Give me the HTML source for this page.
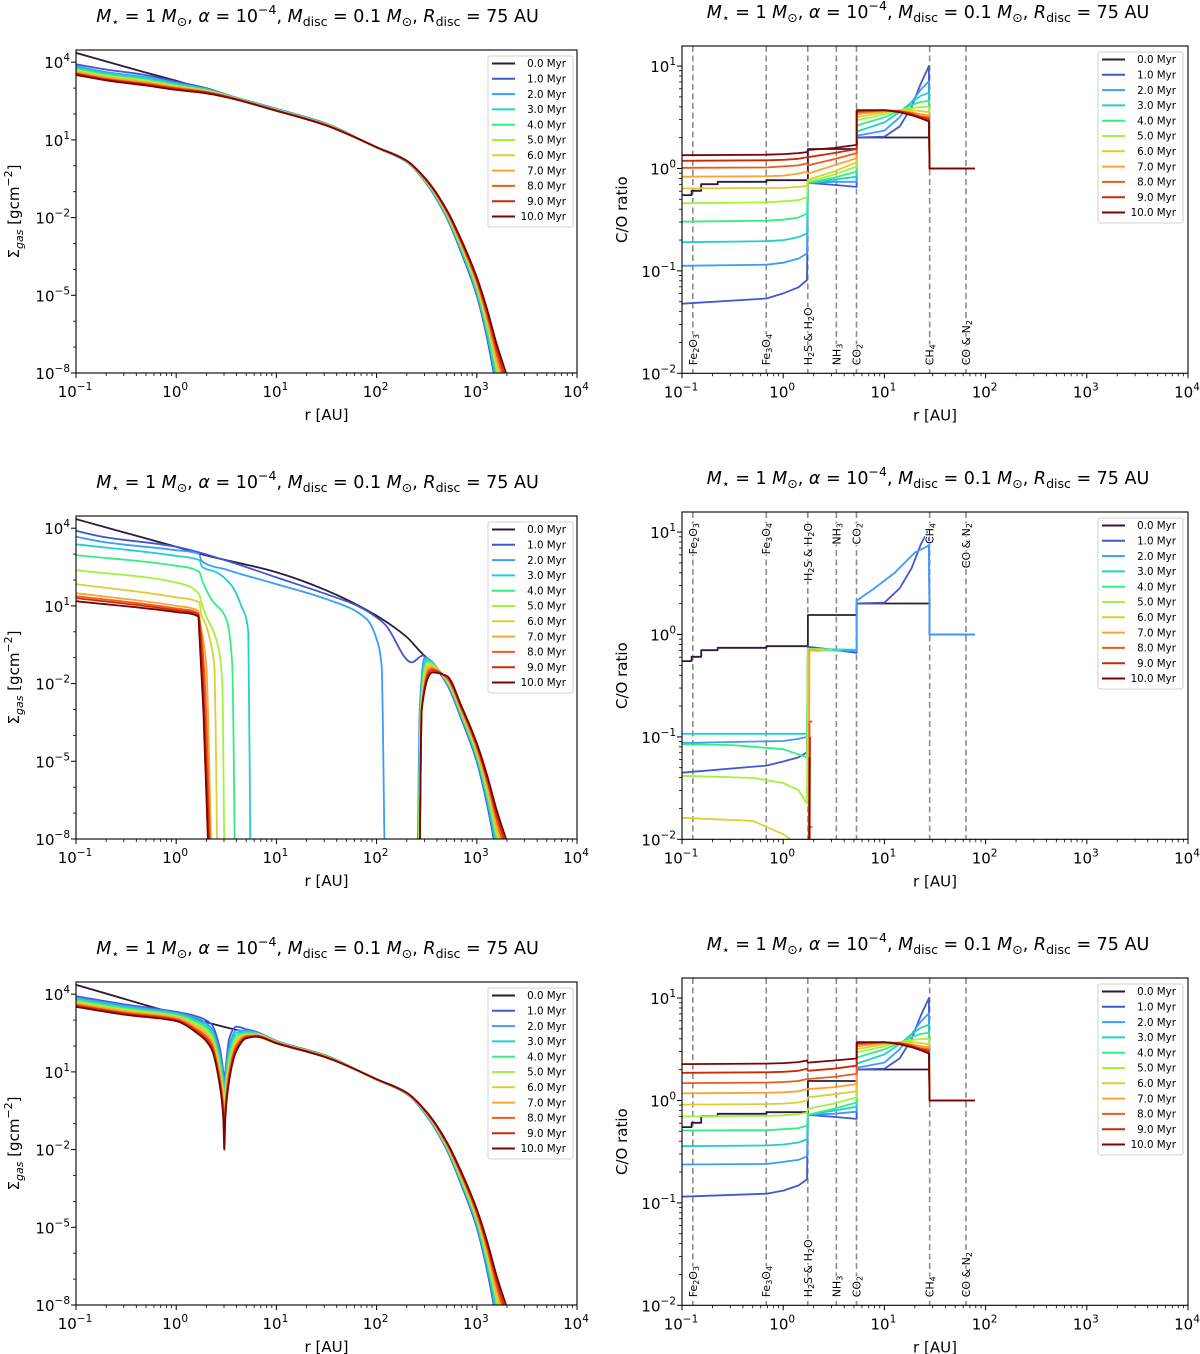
<!DOCTYPE html>
<html><head><meta charset="utf-8"><title>Gas surface density and C/O ratio evolution</title>
<style>
html,body{margin:0;padding:0;background:#fff;}
svg{display:block;font-family:"DejaVu Sans","Liberation Sans",sans-serif;}
</style></head>
<body>
<svg id="fig" width="1200" height="1354" viewBox="0 0 1200 1354" xmlns="http://www.w3.org/2000/svg"></svg>
<script>
// ---------------- DATA ----------------
const timeLabels = ['0.0 Myr','1.0 Myr','2.0 Myr','3.0 Myr','4.0 Myr','5.0 Myr','6.0 Myr','7.0 Myr','8.0 Myr','9.0 Myr','10.0 Myr'];
const seriesColors = ['#2d1a3e','#4357d0','#3d9cf8','#22cfd0','#35ee83','#a3f23c','#dccf35','#fda334','#f0591b','#cc2a07','#7a0403'];

// Panel A (top-left): log10 r [AU] grid and log10 Sigma per time
const sigA_logR = [-1,-0.7,-0.3,0,0.3,0.5,1,1.5,2,2.3,2.5,2.7,2.85,3.0,3.1,3.2,3.3];
const sigA_logSigma = [
 [4.36,4.03,3.6,3.28,2.95,2.72,2.18,1.62,0.7,0.15,-0.7,-2.0,-3.4,-5.0,-6.6,-8.6,-10.5],
 [3.92,3.72,3.5,3.25,3.0,2.75,2.2,1.62,0.7,0.15,-0.7,-2.0,-3.4,-5.0,-6.6,-8.6,-10.5],
 [3.85,3.62,3.42,3.2,2.97,2.74,2.19,1.61,0.7,0.16,-0.68,-1.97,-3.34,-4.92,-6.48,-8.41,-10.23],
 [3.8,3.57,3.38,3.16,2.95,2.73,2.18,1.6,0.7,0.16,-0.67,-1.93,-3.29,-4.84,-6.36,-8.22,-9.97],
 [3.74,3.52,3.33,3.12,2.93,2.72,2.17,1.6,0.71,0.17,-0.65,-1.9,-3.23,-4.77,-6.23,-8.03,-9.7],
 [3.7,3.48,3.29,3.09,2.91,2.71,2.16,1.59,0.71,0.17,-0.63,-1.87,-3.18,-4.69,-6.11,-7.84,-9.43],
 [3.66,3.44,3.25,3.06,2.89,2.7,2.15,1.58,0.71,0.18,-0.62,-1.83,-3.12,-4.61,-5.99,-7.66,-9.17],
 [3.62,3.4,3.21,3.03,2.87,2.69,2.14,1.57,0.71,0.18,-0.6,-1.8,-3.07,-4.53,-5.87,-7.47,-8.9],
 [3.58,3.36,3.17,3.0,2.85,2.68,2.14,1.57,0.72,0.19,-0.58,-1.77,-3.01,-4.46,-5.74,-7.28,-8.63],
 [3.55,3.33,3.14,2.97,2.83,2.67,2.13,1.56,0.72,0.19,-0.57,-1.73,-2.96,-4.38,-5.62,-7.09,-8.37],
 [3.51,3.3,3.1,2.93,2.8,2.65,2.12,1.55,0.72,0.2,-0.55,-1.7,-2.9,-4.3,-5.5,-6.9,-8.1]
];

// Panel B (middle-left): per-series log r and log Sigma (null = break)
const sigB_logR = [
 [-1,0,0.3,1,1.5,2,2.3,2.46,2.5,2.7,2.85,3.0,3.1,3.2,3.3],
 [-1,-0.75,0,0.5,1,1.5,1.81,2.08,2.35,2.46,2.5,2.7,2.85,3.0,3.1,3.2,3.3],
 [-1,-0.7,0,0.23,0.25,0.5,1,1.5,1.9,2.0,2.05,2.08,null,2.41,2.43,2.48,2.7,2.85,3.0,3.1,3.2,3.3],
 [-1,0,0.23,0.26,0.4,0.55,0.65,0.72,0.74,null,2.42,2.44,2.49,2.7,2.85,3.0,3.1,3.2,3.3],
 [-1,0,0.23,0.26,0.35,0.5,0.56,0.585,null,2.42,2.44,2.5,2.7,2.85,3.0,3.1,3.2,3.3],
 [-1,0,0.23,0.25,0.3,0.4,0.46,0.48,null,2.42,2.44,2.51,2.7,2.85,3.0,3.1,3.2,3.3],
 [-1,0,0.23,0.25,0.3,0.35,0.38,0.41,null,2.43,2.45,2.52,2.7,2.85,3.0,3.1,3.2,3.3],
 [-1,0,0.22,0.24,0.3,0.35,null,2.43,2.45,2.53,2.7,2.85,3.0,3.1,3.2,3.3],
 [-1,0,0.22,0.24,0.28,0.34,null,2.43,2.45,2.54,2.7,2.85,3.0,3.1,3.2,3.3],
 [-1,0,0.22,0.24,0.27,0.33,null,2.43,2.45,2.55,2.7,2.85,3.0,3.1,3.2,3.3],
 [-1,0,0.22,0.23,0.27,0.32,null,2.43,2.45,2.56,2.7,2.85,3.0,3.1,3.2,3.3]
];
const sigB_logSigma = [
 [4.35,3.28,2.95,2.3,1.6,0.62,-0.2,-0.86,-1.0,-2.0,-3.4,-5.0,-6.6,-8.6,-10.5],
 [3.9,3.68,3.28,2.75,2.1,1.45,1.0,0.3,-1.18,-0.92,-1.0,-2.0,-3.4,-5.0,-6.6,-8.6,-10.5],
 [3.67,3.45,3.15,3.0,2.75,2.4,1.84,1.26,0.49,-0.28,-1.3,-8.5,null,-8.5,-3,-1.0,-1.97,-3.34,-4.92,-6.48,-8.41,-10.23],
 [3.38,2.93,2.77,2.5,2.3,1.8,1.0,0,-8.5,null,-8.5,-3,-1.07,-1.93,-3.29,-4.84,-6.36,-8.22,-9.97],
 [2.96,2.55,2.32,1.97,1.26,0.49,-1.3,-8.5,null,-8.5,-3,-1.14,-1.9,-3.23,-4.77,-6.23,-8.03,-9.7],
 [2.38,1.9,1.45,1.13,0.6,-0.3,-1.95,-8.5,null,-8.5,-3,-1.21,-1.87,-3.18,-4.69,-6.11,-7.84,-9.43],
 [1.84,1.33,1.13,0.68,0.23,-0.54,-1.3,-8.5,null,-8.5,-3,-1.28,-1.83,-3.12,-4.61,-5.99,-7.66,-9.17],
 [1.49,1.0,0.81,0.36,-1.3,-8.5,null,-8.5,-3,-1.36,-1.8,-3.07,-4.53,-5.87,-7.47,-8.9],
 [1.38,0.9,0.72,0.2,-1.5,-8.5,null,-8.5,-3,-1.43,-1.77,-3.01,-4.46,-5.74,-7.28,-8.63],
 [1.3,0.83,0.66,0,-2,-8.5,null,-8.5,-3,-1.5,-1.73,-2.96,-4.38,-5.62,-7.09,-8.37],
 [1.18,0.76,0.6,0.0,-3,-8.5,null,-8.5,-3,-1.57,-1.7,-2.9,-4.3,-5.5,-6.9,-8.1]
];

// Panel C (bottom-left): gap at 3 AU
const sigC_logR0 = [-1,0.58,0.8,1.0,1.5,2.0,2.3,2.5,2.7,2.85,3.0,3.1,3.2,3.3];
const sigC_logSigma0 = [4.36,2.64,2.45,2.18,1.62,0.7,0.15,-0.7,-2.0,-3.4,-5.0,-6.6,-8.6,-10.5];
const sigC_logR = [-1,-0.5,0,0.2,0.35,0.43,0.47,0.48,0.49,0.53,0.6,0.7,0.8,1.0,1.5,2.0,2.3,2.5,2.7,2.85,3.0,3.1,3.2,3.3];
const sigC_logSigma = [
 [3.92,3.6,3.32,3.15,2.85,2.0,1.0,0.6,1.0,2.3,2.75,2.65,2.55,2.2,1.62,0.7,0.15,-0.7,-2.0,-3.4,-5.0,-6.6,-8.6,-10.5],
 [3.87,3.55,3.28,3.08,2.7,1.8,0.8,0.3,0.8,2.0,2.6,2.6,2.52,2.19,1.61,0.7,0.16,-0.68,-1.97,-3.34,-4.92,-6.48,-8.41,-10.23],
 [3.82,3.5,3.24,3.0,2.6,1.6,0.6,0.1,0.6,1.8,2.5,2.55,2.5,2.18,1.6,0.7,0.16,-0.67,-1.93,-3.29,-4.84,-6.36,-8.22,-9.97],
 [3.77,3.45,3.2,2.93,2.5,1.45,0.4,-0.1,0.4,1.6,2.4,2.5,2.48,2.17,1.6,0.71,0.17,-0.65,-1.9,-3.23,-4.77,-6.23,-8.03,-9.7],
 [3.72,3.4,3.16,2.86,2.4,1.3,0.2,-0.3,0.2,1.4,2.3,2.45,2.46,2.16,1.59,0.71,0.17,-0.63,-1.87,-3.18,-4.69,-6.11,-7.84,-9.43],
 [3.68,3.36,3.12,2.79,2.3,1.15,0,-0.6,0,1.25,2.2,2.43,2.44,2.15,1.58,0.71,0.18,-0.62,-1.83,-3.12,-4.61,-5.99,-7.66,-9.17],
 [3.63,3.32,3.08,2.72,2.2,1.0,-0.2,-0.9,-0.2,1.1,2.1,2.4,2.42,2.14,1.57,0.71,0.18,-0.6,-1.8,-3.07,-4.53,-5.87,-7.47,-8.9],
 [3.59,3.28,3.04,2.65,2.1,0.85,-0.4,-1.2,-0.4,0.95,2.0,2.37,2.4,2.13,1.57,0.72,0.19,-0.58,-1.77,-3.01,-4.46,-5.74,-7.28,-8.63],
 [3.55,3.24,3.0,2.58,2.0,0.7,-0.6,-1.6,-0.6,0.8,1.9,2.34,2.38,2.12,1.56,0.72,0.19,-0.57,-1.73,-2.96,-4.38,-5.62,-7.09,-8.37],
 [3.51,3.2,2.96,2.52,1.9,0.6,-0.8,-2.0,-0.8,0.7,1.8,2.3,2.36,2.1,1.55,0.72,0.2,-0.55,-1.7,-2.9,-4.3,-5.5,-6.9,-8.1]
];

// Ice lines (AU) and labels
const iceLineR = [0.128,0.68,1.75,3.35,5.3,28,64];
const iceLineLabels = [['Fe','2','O','3'],['Fe','3','O','4'],['H','2','S & H','2','O'],['NH','3'],['CO','2'],['CH','4'],['CO & N','2']];

// C/O step profile at t=0 (shared)
const co_logR0 = [-1,-0.905,-0.905,-0.81,-0.81,-0.647,-0.647,-0.165,-0.165,0.244,0.244,0.726,0.726,1.447,1.447,1.894];
const co_logCO0 = [-0.26,-0.26,-0.218,-0.218,-0.153,-0.153,-0.13,-0.13,-0.114,-0.114,0.19,0.19,0.303,0.303,0,0];

// C/O grid for top-right and bottom-right
const co_logR = [-1,-0.165,0,0.15,0.235,0.244,0.5,0.726,0.726,1.0,1.15,1.27,1.36,1.44,1.447,1.894];
const coA_logCO = [
 [-1.32,-1.27,-1.22,-1.16,-1.09,-0.14,-0.16,-0.18,0.303,0.31,0.41,0.6,0.83,1.0,0,0],
 [-0.95,-0.94,-0.92,-0.88,-0.83,-0.14,-0.13,-0.13,0.32,0.37,0.5,0.65,0.77,0.85,0,0],
 [-0.72,-0.71,-0.7,-0.67,-0.635,-0.14,-0.11,-0.08,0.36,0.45,0.55,0.65,0.71,0.74,0,0],
 [-0.52,-0.51,-0.5,-0.48,-0.44,-0.14,-0.09,-0.03,0.42,0.5,0.56,0.62,0.65,0.66,0,0],
 [-0.34,-0.33,-0.32,-0.31,-0.28,-0.13,-0.06,0.02,0.47,0.53,0.57,0.59,0.6,0.6,0,0],
 [-0.195,-0.19,-0.19,-0.18,-0.17,-0.11,-0.03,0.06,0.5,0.55,0.57,0.57,0.56,0.55,0,0],
 [-0.08,-0.075,-0.07,-0.05,-0.03,-0.05,0.03,0.1,0.53,0.56,0.56,0.55,0.53,0.52,0,0],
 [0.007,0.01,0.02,0.03,0.05,0.03,0.09,0.15,0.55,0.565,0.56,0.54,0.51,0.5,0,0],
 [0.075,0.08,0.085,0.095,0.11,0.11,0.15,0.19,0.56,0.57,0.56,0.53,0.5,0.48,0,0],
 [0.13,0.135,0.14,0.15,0.16,0.18,0.2,0.23,0.57,0.57,0.55,0.52,0.49,0.46,0,0]
];
const coC_logCO = [
 [-0.94,-0.91,-0.88,-0.83,-0.77,-0.14,-0.16,-0.18,0.303,0.31,0.41,0.6,0.83,1.0,0,0],
 [-0.625,-0.62,-0.6,-0.58,-0.545,-0.14,-0.13,-0.11,0.32,0.37,0.5,0.65,0.77,0.85,0,0],
 [-0.446,-0.44,-0.43,-0.41,-0.38,-0.14,-0.1,-0.06,0.36,0.45,0.55,0.65,0.71,0.74,0,0],
 [-0.293,-0.29,-0.28,-0.27,-0.245,-0.14,-0.08,-0.02,0.42,0.5,0.56,0.62,0.65,0.66,0,0],
 [-0.156,-0.15,-0.145,-0.135,-0.12,-0.08,-0.03,0.03,0.47,0.53,0.57,0.59,0.6,0.6,0,0],
 [-0.04,-0.035,-0.03,-0.02,0.0,0.03,0.06,0.09,0.5,0.55,0.57,0.57,0.56,0.55,0,0],
 [0.07,0.075,0.08,0.09,0.11,0.11,0.13,0.16,0.53,0.56,0.56,0.55,0.53,0.52,0,0],
 [0.17,0.175,0.18,0.19,0.21,0.21,0.23,0.26,0.55,0.565,0.56,0.54,0.51,0.5,0,0],
 [0.27,0.275,0.28,0.29,0.31,0.29,0.31,0.34,0.56,0.57,0.56,0.53,0.5,0.48,0,0],
 [0.355,0.36,0.365,0.375,0.39,0.37,0.39,0.41,0.57,0.57,0.55,0.52,0.49,0.46,0,0]
];
// Middle-right: per-series
const coB_logR = [
 [-1,-0.165,0,0.15,0.235,0.244,0.5,0.726,0.726,1.0,1.15,1.27,1.36,1.44,1.447],
 [-1,0,0.15,0.235,0.244,0.726,0.726,0.9,1.1,1.3,1.44,1.447,1.894],
 [-1,0.235,0.244,0.72],
 [-1,-0.5,0,0.235,0.244,0.58],
 [-1,-0.3,0,0.15,0.235,0.244,0.48],
 [-1,-0.3,0,0.1,0.2,0.25,0.255,0.4],
 [0.25,0.26,0.36],
 [0.26,0.26,0.29,null,0.26,0.29],
 [0.26,0.265],
 [0.255,0.26]
];
const coB_logCO = [
 [-1.35,-1.28,-1.24,-1.2,-1.15,-0.12,-0.15,-0.18,0.303,0.31,0.45,0.65,0.88,1.03,0],
 [-1.06,-1.04,-1.02,-1.0,-0.15,-0.16,0.33,0.45,0.6,0.8,0.87,0,0],
 [-0.97,-0.97,-0.14,-0.15],
 [-1.07,-1.08,-1.12,-1.2,-0.15,-0.15],
 [-1.38,-1.4,-1.45,-1.52,-1.65,-0.14,-0.15],
 [-1.79,-1.82,-1.95,-2.02,-2.2,-2.5,-0.15,-0.16],
 [-2.5,-0.15,-0.16],
 [-2.5,-0.85,-0.85,null,-1.88,-1.88],
 [-2.5,-1.0],
 [-2.5,-1.2]
];

// ---------------- DRAWING ----------------
const NS='http://www.w3.org/2000/svg';
const svg=document.getElementById('fig');
function el(tag,attrs,parent){const e=document.createElementNS(NS,tag);for(const k in attrs)e.setAttribute(k,attrs[k]);(parent||svg).appendChild(e);return e;}
function sup(parent,base,exp,attrs){const t=el('text',attrs,parent);const a=el('tspan',{},t);a.textContent=base;const b=el('tspan',{'font-size':'10.5','dy':'-7'},t);b.textContent=exp;return t;}

// monotone cubic (Fritsch-Carlson) path through pixel points
function monoPath(P){
  const n=P.length;if(n<2)return '';
  if(n===2)return 'M'+P[0][0].toFixed(1)+','+P[0][1].toFixed(1)+'L'+P[1][0].toFixed(1)+','+P[1][1].toFixed(1);
  const dx=[],s=[];
  for(let i=0;i<n-1;i++){dx[i]=P[i+1][0]-P[i][0];s[i]=dx[i]>1e-6?(P[i+1][1]-P[i][1])/dx[i]:0;}
  const m=[s[0]];
  for(let i=1;i<n-1;i++){m[i]=(s[i-1]*s[i]<=0)?0:(3*(dx[i-1]+dx[i]))/((2*dx[i]+dx[i-1])/s[i-1]+(dx[i]+2*dx[i-1])/s[i]);}
  m[n-1]=s[n-2];
  let d='M'+P[0][0].toFixed(1)+','+P[0][1].toFixed(1);
  for(let i=0;i<n-1;i++){
    const h=dx[i]/3;
    if(dx[i]<=1e-6){d+='L'+P[i+1][0].toFixed(1)+','+P[i+1][1].toFixed(1);continue;}
    d+='C'+(P[i][0]+h).toFixed(1)+','+(P[i][1]+m[i]*h).toFixed(1)+' '+(P[i+1][0]-h).toFixed(1)+','+(P[i+1][1]-m[i+1]*h).toFixed(1)+' '+P[i+1][0].toFixed(1)+','+P[i+1][1].toFixed(1);
  }
  return d;
}

function makePanel(cfg){
  const g=el('g',{});
  
  
  const {x0,x1,yT,yB,ymin,ymax}=cfg;
  const sx=v=>x0+(v+1)/5*(x1-x0);
  const sy=v=>yB-(v-ymin)/(ymax-ymin)*(yB-yT);
  // title
  const tt=el('text',{x:(x0+x1)/2+cfg.titleDx,y:yT-28,'text-anchor':'middle','font-size':'17.5',fill:'#000'},g);
  
  
  const parts=[['M','i'],['⋆','s'],[' = 1 ',''],['M','i'],['⊙','s'],[',  ',''],['α','i'],[' = 10',''],['−4','p'],[',  ',''],['M','i'],['disc','s'],[' = 0.1 ',''],['M','i'],['⊙','s'],[',  ',''],['R','i'],['disc','s'],[' = 75 AU','']];
  let prev='';
  parts.forEach(([s,k])=>{const a={};if(k==='i')a['font-style']='italic';
    if(k==='s'){a['font-size']='12.5';a.dy='4';}
    if(k==='p'){a['font-size']='12.5';a.dy='-8';}
    if(prev==='s'&&k!=='s')a.dy='-4'; if(prev==='p')a.dy='8';
    const sp=el('tspan',a,tt);sp.textContent=s;prev=k;});
  // clip
  const cid='clip-'+cfg.name;
  const cp=el('clipPath',{id:cid},g);el('rect',{x:x0,y:yT,width:x1-x0,height:yB-yT},cp);
  const plot=el('g',{'clip-path':'url(#'+cid+')'},g);
  // ice lines
  if(cfg.ice){
    iceLineR.forEach((r,i)=>{
      const lx=sx(Math.log10(r));
      const ln=el('line',{x1:lx,x2:lx,y1:yT,y2:yB,stroke:'#8c8c8c','stroke-width':'1.6','stroke-dasharray':'6,3.5'},plot);
      
      
    });
  }
  // series
  cfg.series.forEach((s,k)=>{
    let d='';let run=[];
    const flush=()=>{if(run.length){d+=cfg.smooth?monoPath(run):run.map((p,i)=>(i?'L':'M')+p[0].toFixed(1)+','+p[1].toFixed(1)).join('');}run=[];};
    for(let i=0;i<s.r.length;i++){
      if(s.r[i]===null||s.v[i]===null){flush();continue;}
      run.push([sx(s.r[i]),sy(s.v[i])]);
    }
    flush();
    const p=el('path',{d:d,fill:'none',stroke:seriesColors[s.k],'stroke-width':'1.8','stroke-linejoin':'round'},plot);
    
    
  });
  // ice labels
  if(cfg.ice){
    iceLineR.forEach((r,i)=>{
      const lx=sx(Math.log10(r))+4;
      const ly=cfg.iceTop? yT+11 : yB-8;
      const t=el('text',{transform:`translate(${lx},${ly}) rotate(-90)`,'font-size':'11','text-anchor':cfg.iceTop?'end':'start',fill:'#000',stroke:'#fff','stroke-width':'2','paint-order':'stroke'},g);
      
      
      iceLineLabels[i].forEach((s,j)=>{const sub=(j%2===1);const a={};if(sub){a['font-size']='8';a.dy='2';}else if(j>0){a.dy='-2';}const sp=el('tspan',a,t);sp.textContent=s;});
    });
  }
  // frame
  el('rect',{x:x0,y:yT,width:x1-x0,height:yB-yT,fill:'none',stroke:'#000','stroke-width':'1.1'},g);
  // x ticks
  const xt=el('g',{},g);
  for(let d=-1;d<=4;d++){
    const X=sx(d);el('line',{x1:X,x2:X,y1:yB,y2:yB+5,stroke:'#000','stroke-width':'1'},xt);
    sup(xt,'10',d<0?'−'+(-d):String(d),{x:X-1,y:yB+24,'text-anchor':'middle','font-size':'15'});
    if(d<4)for(let m=2;m<=9;m++){const Xm=sx(d+Math.log10(m));el('line',{x1:Xm,x2:Xm,y1:yB,y2:yB+3,stroke:'#000','stroke-width':'0.8'},xt);}
  }
  const xl=el('text',{x:(x0+x1)/2,y:yB+47,'text-anchor':'middle','font-size':'15'},g);xl.textContent='r [AU]';
  
  // y ticks
  const yt=el('g',{},g);
  for(let d=Math.ceil(ymin);d<=Math.floor(ymax);d++){
    const Y=sy(d);
    const major=cfg.yMajor.includes(d);
    el('line',{x1:x0-(major?5:3),x2:x0,y1:Y,y2:Y,stroke:'#000','stroke-width':major?'1':'0.8'},yt);
    if(major)sup(yt,'10',d<0?'−'+(-d):String(d),{x:x0-6,y:Y+6,'text-anchor':'end','font-size':'15'});
    if(cfg.yMinor)for(let m=2;m<=9;m++){const v=d+Math.log10(m);if(v<=ymax){const Ym=sy(v);el('line',{x1:x0-3,x2:x0,y1:Ym,y2:Ym,stroke:'#000','stroke-width':'0.8'},yt);}}
  }
  // y title
  const yl=el('text',{transform:`translate(${cfg.ylx},${(yT+yB)/2}) rotate(-90)`,'text-anchor':'middle','font-size':'15'},g);
  
  if(cfg.ice){yl.textContent='C/O ratio';}
  else{const a=el('tspan',{},yl);a.textContent='Σ';const b=el('tspan',{'font-size':'11','font-style':'italic',dy:'4'},yl);b.textContent='gas';
    const c=el('tspan',{dy:'-4'},yl);c.textContent=' [gcm';const e=el('tspan',{'font-size':'11',dy:'-7'},yl);e.textContent='−2';const f=el('tspan',{dy:'7'},yl);f.textContent=']';}
  // legend
  const lg=el('g',{},g);
  el('rect',{x:cfg.lx,y:cfg.ly,width:85,height:171,rx:2,fill:'#fff',stroke:'#d0d0d0','stroke-width':'1'},lg);
  timeLabels.forEach((lab,i)=>{
    const yy=cfg.ly+7.5+i*15.3;
    const en=el('g',{},lg);
    
    
    el('line',{x1:cfg.lx+4,x2:cfg.lx+27,y1:yy,y2:yy,stroke:seriesColors[i],'stroke-width':'2'},en);
    const t=el('text',{x:cfg.lx+78,y:yy+3.7,'text-anchor':'end','font-size':'10.3'},en);t.textContent=lab;
  });
}

function sigSeriesShared(grid,rows){return rows.map((v,k)=>({r:grid,v:v,k:k}));}
const leftBase={x0:76,x1:577,ymin:-8,ymax:4.471,yMajor:[-8,-5,-2,1,4],yMinor:false,ylx:19,titleDx:-9,smooth:true};
const rightBase={x0:682,x1:1188,ymin:-2,ymax:1.196,yMajor:[-2,-1,0,1],yMinor:true,ylx:627,ice:true,titleDx:-7,smooth:false};

makePanel(Object.assign({},leftBase,{name:'sigma-panel-top',yT:50,yB:373,lx:488,ly:56,
  series:sigSeriesShared(sigA_logR,sigA_logSigma)}));
makePanel(Object.assign({},leftBase,{name:'sigma-panel-middle',yT:50+466,yB:373+466,lx:488,ly:56+466,
  series:sigB_logR.map((r,k)=>({r:r,v:sigB_logSigma[k],k:k}))}));
makePanel(Object.assign({},leftBase,{name:'sigma-panel-bottom',yT:50+932,yB:373+932,lx:488,ly:56+932,
  series:[{r:sigC_logR0,v:sigC_logSigma0,k:0}].concat(sigC_logSigma.map((v,i)=>({r:sigC_logR,v:v,k:i+1})))}));

makePanel(Object.assign({},rightBase,{name:'co-panel-top',yT:46,yB:373.3,lx:1098,ly:52,
  series:[{r:co_logR0,v:co_logCO0,k:0}].concat(coA_logCO.map((v,i)=>({r:co_logR,v:v,k:i+1})))}));
makePanel(Object.assign({},rightBase,{name:'co-panel-middle',yT:46+466,yB:373.3+466,lx:1098,ly:52+466,iceTop:true,
  series:[{r:co_logR0,v:co_logCO0,k:0}].concat(coB_logR.map((r,i)=>({r:r,v:coB_logCO[i],k:i+1})))}));
makePanel(Object.assign({},rightBase,{name:'co-panel-bottom',yT:46+932,yB:373.3+932,lx:1098,ly:52+932,
  series:[{r:co_logR0,v:co_logCO0,k:0}].concat(coC_logCO.map((v,i)=>({r:co_logR,v:v,k:i+1})))}));
</script>
</body></html>
